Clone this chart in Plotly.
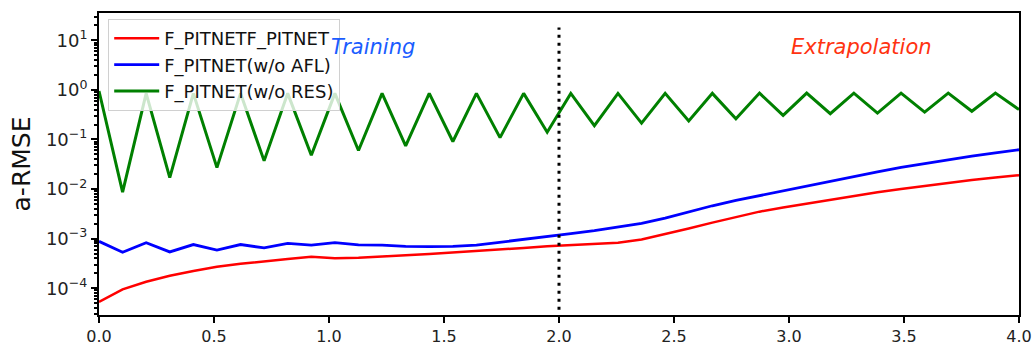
import numpy as np
import plotly.graph_objects as go

# ---- data ----
n_points = 40
x_vals = [round(i * 4.0 / 39, 4) for i in range(n_points)]

red_vals = [0.000053, 0.000095, 0.000135, 0.000178, 0.000223, 0.00027, 0.00031, 0.00035,
            0.00039, 0.00043, 0.00040, 0.00041, 0.00043, 0.00046, 0.00049, 0.00053,
            0.00056, 0.00061, 0.00065, 0.00070, 0.00074, 0.00077, 0.00083, 0.00096,
            0.00122, 0.0016, 0.0021, 0.00275, 0.0035, 0.00425, 0.0051, 0.0061,
            0.0073, 0.0086, 0.0100, 0.0116, 0.0133, 0.0152, 0.0170, 0.019]

blue_vals = [0.00088, 0.00053, 0.00083, 0.00054, 0.00076, 0.00059, 0.00076, 0.00065,
             0.00080, 0.00074, 0.00083, 0.00075, 0.00074, 0.00070, 0.00069, 0.00070,
             0.00074, 0.00084, 0.00095, 0.00110, 0.00126, 0.00145, 0.0017, 0.00204,
             0.0026, 0.0035, 0.0046, 0.0059, 0.0074, 0.0092, 0.0116, 0.0145,
             0.0181, 0.0222, 0.0272, 0.0326, 0.0389, 0.046, 0.0536, 0.062]

green_vals = [0.95, 0.0087, 0.85, 0.017, 0.85, 0.027, 0.85, 0.037,
              0.85, 0.048, 0.85, 0.060, 0.85, 0.074, 0.85, 0.091,
              0.85, 0.109, 0.85, 0.14, 0.85, 0.19, 0.85, 0.214,
              0.85, 0.235, 0.85, 0.26, 0.86, 0.305, 0.86, 0.33,
              0.86, 0.34, 0.86, 0.355, 0.86, 0.37, 0.86, 0.40]

series_names = ["F_PITNETF_PITNET", "F_PITNET(w/o AFL)", "F_PITNET(w/o RES)"]
series_colors = ["#ff0000", "#0000ff", "#008000"]
series_widths = [2.5, 2.8, 3.0]

train_end = 2.0
vline_y = [3.7e-5, 18.0]
x_ticks = [0.0, 0.5, 1.0, 1.5, 2.0, 2.5, 3.0, 3.5, 4.0]
y_exps = [-4, -3, -2, -1, 0, 1]
y_ticks = [10.0 ** e for e in y_exps]
y_ticktext = ["10<sup>%s</sup>" % (str(e).replace("-", "\u2212")) for e in y_exps]

FONT = "DejaVu Sans"

fig = go.Figure()
for name, vals, col, w in zip(series_names, [red_vals, blue_vals, green_vals],
                              series_colors, series_widths):
    fig.add_trace(go.Scatter(x=x_vals, y=vals, mode="lines", name=name,
                             line=dict(color=col, width=w)))

fig.add_trace(go.Scatter(x=[train_end, train_end], y=vline_y, mode="lines",
                         showlegend=False, hoverinfo="skip",
                         line=dict(color="black", width=3, dash="3px,5px")))

fig.add_annotation(x=1.0, y=0.86, xref="x", yref="y", text="<i>Training</i>",
                   showarrow=False, xanchor="left", yanchor="middle",
                   font=dict(family=FONT, size=21, color="#1a5cff"))
fig.add_annotation(x=3.0, y=0.86, xref="x", yref="y", text="<i>Extrapolation</i>",
                   showarrow=False, xanchor="left", yanchor="middle",
                   font=dict(family=FONT, size=21, color="#ff3311"))

fig.update_layout(
    width=1035, height=350,
    margin=dict(l=99, r=16, t=13, b=35),
    paper_bgcolor="white", plot_bgcolor="white",
    font=dict(family=FONT, size=16, color="#222"),
    legend=dict(x=0.01, y=0.98, xanchor="left", yanchor="top",
                bgcolor="rgba(255,255,255,0.8)", bordercolor="#d0d0d0",
                borderwidth=1, font=dict(family=FONT, size=18, color="#111"),
                itemwidth=45, tracegroupgap=0),
)

fig.update_xaxes(range=[0, 4], tickvals=x_ticks, ticktext=[f"{v:.1f}" for v in x_ticks],
                 showgrid=False, zeroline=False, automargin=False,
                 showline=True, linecolor="black", linewidth=2, mirror=True,
                 ticks="outside", ticklen=6, tickwidth=2, tickcolor="black",
                 tickfont=dict(family=FONT, size=16, color="#222"))
fig.update_yaxes(type="log", range=[-4.54, 1.55], tickvals=y_ticks, ticktext=y_ticktext,
                 showgrid=False, zeroline=False, automargin=False,
                 showline=True, linecolor="black", linewidth=2, mirror=True,
                 ticks="outside", ticklen=6, tickwidth=2, tickcolor="black",
                 minor=dict(ticks="outside", ticklen=3, tickwidth=1.5, tickcolor="black", dtick="D1"),
                 tickfont=dict(family=FONT, size=18, color="#222"),
                 title=dict(text="a-RMSE", font=dict(family=FONT, size=25, color="#111"), standoff=8))

fig.write_html("out.html")
